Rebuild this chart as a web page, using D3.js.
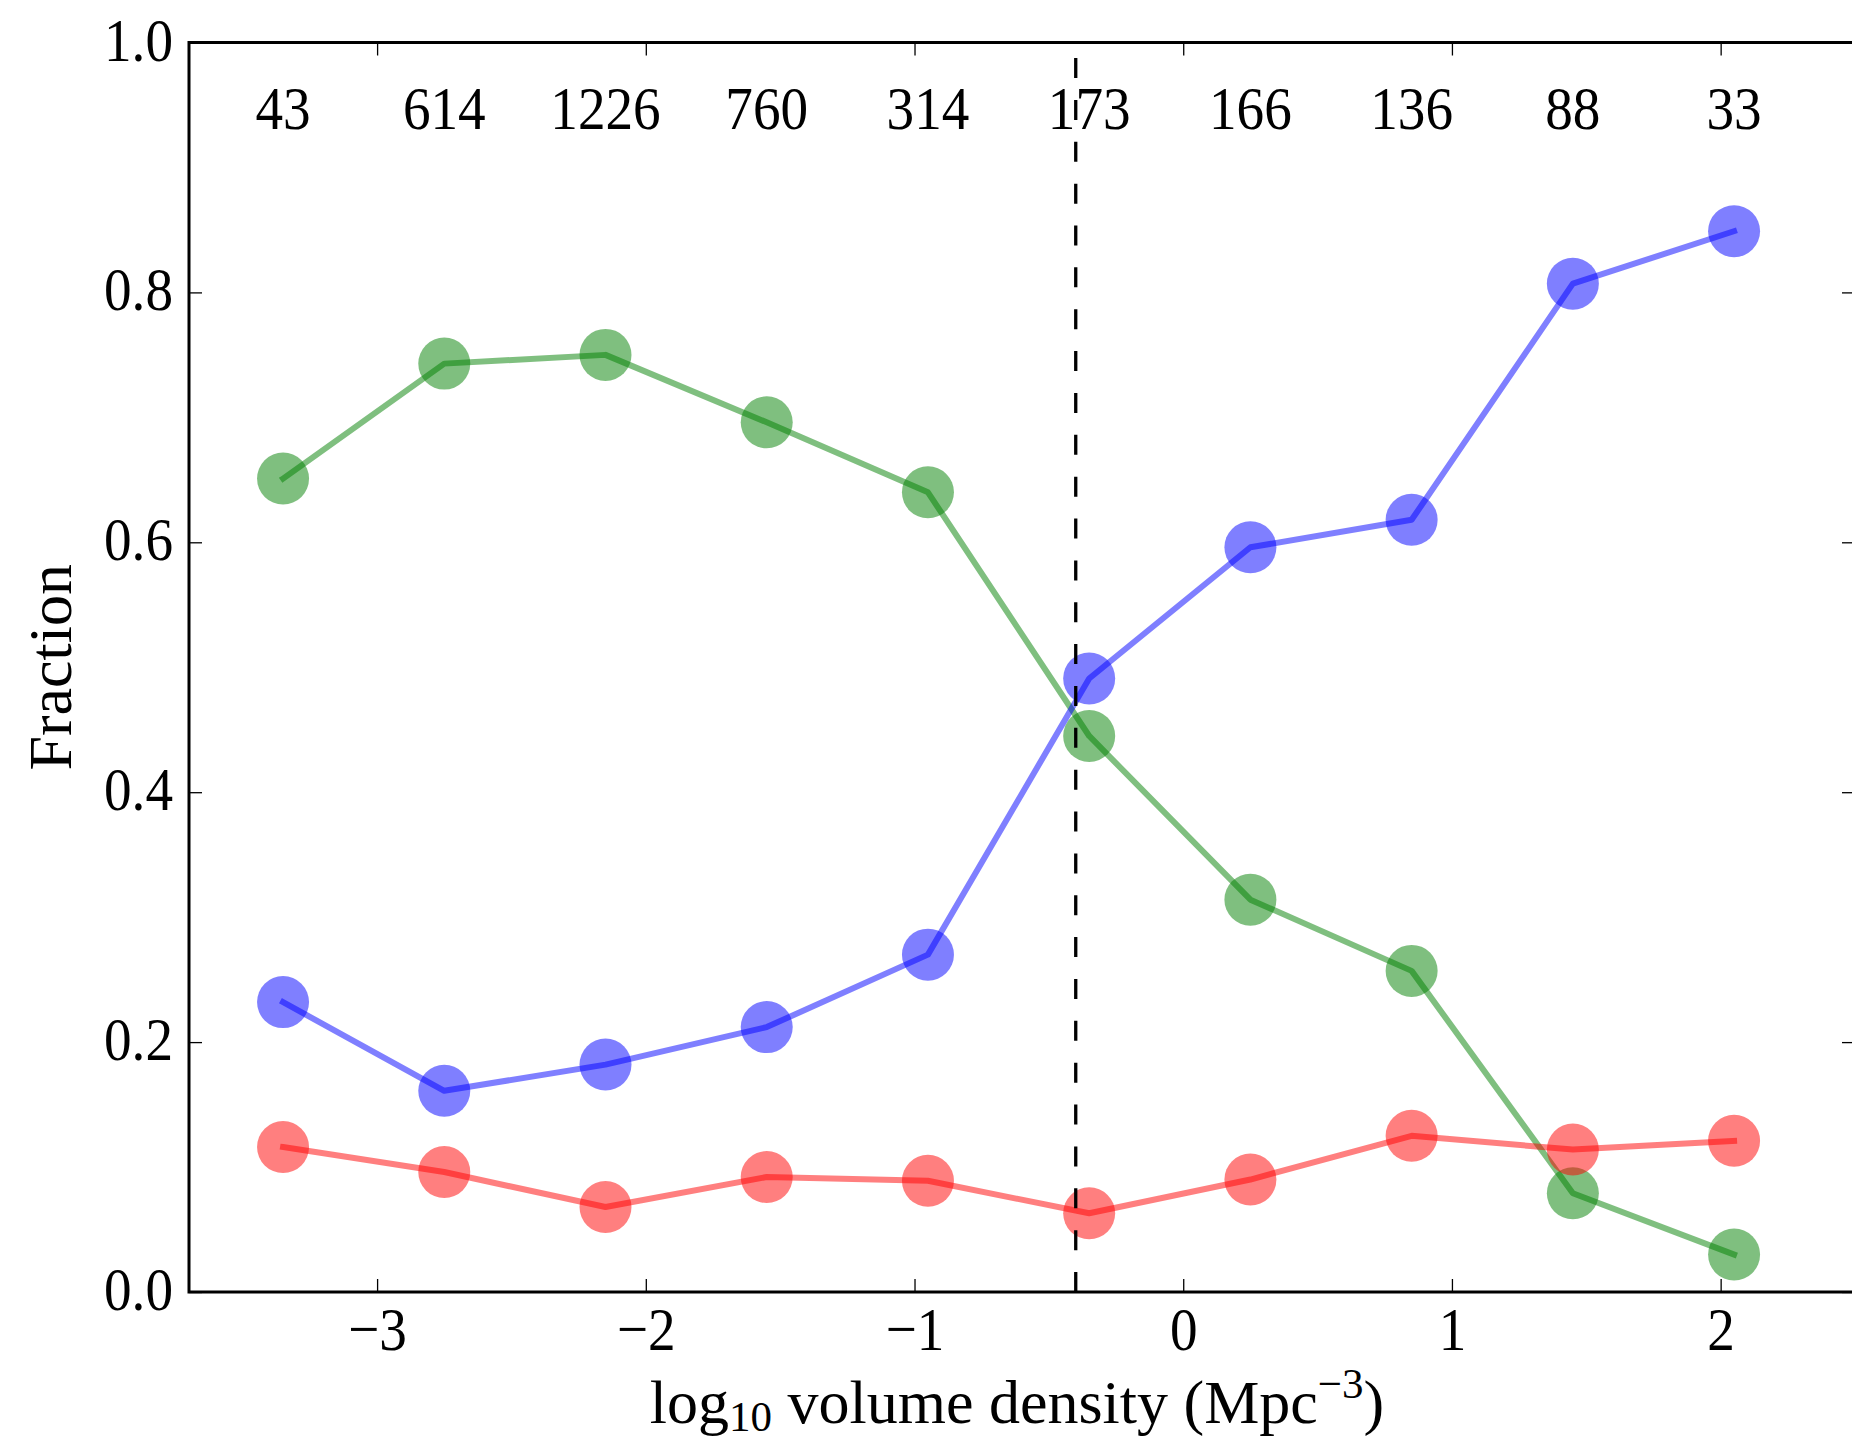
<!DOCTYPE html>
<html>
<head>
<meta charset="utf-8">
<script src="https://cdn.jsdelivr.net/npm/d3@7"></script>
<style>
  body { margin: 0; background: #fff; }
  svg { display: block; }
  text { font-family: "Liberation Serif", "DejaVu Serif", serif; fill: #000; }
</style>
</head>
<body>
<div id="chart"></div>
<script>
// density bins (log10 volume density) and number of galaxies per bin
const binCentres = [-3.35, -2.75, -2.15, -1.55, -0.95, -0.35, 0.25, 0.85, 1.45, 2.05];
const binCounts = [43, 614, 1226, 760, 314, 173, 166, 136, 88, 33];

// fractions per bin
const greenFrac = [0.651, 0.743, 0.750, 0.696, 0.640, 0.445, 0.314, 0.257, 0.079, 0.030];
const blueFrac = [0.232, 0.161, 0.182, 0.212, 0.270, 0.491, 0.596, 0.618, 0.807, 0.849];
const redFrac = [0.116, 0.096, 0.068, 0.092, 0.089, 0.063, 0.090, 0.125, 0.114, 0.121];

const xTicks = [-3, -2, -1, 0, 1, 2];
const yTicks = [0, 0.2, 0.4, 0.6, 0.8, 1.0];
const splitAt = -0.4;

const width = 1852, height = 1443;
const margin = { top: 42.5, right: -3, bottom: 151, left: 189 };
const fs = 62;          // main font size
const squeeze = 0.89;   // narrow the digits a bit, closer to the TeX look

const svg = d3.select("#chart").append("svg")
    .attr("width", width)
    .attr("height", height);

const x = d3.scaleLinear()
    .domain([-3.7, 2.5])
    .range([margin.left, width - margin.right]);

const y = d3.scaleLinear()
    .domain([0, 1])
    .range([height - margin.bottom, margin.top]);

const series = [
    { vals: greenFrac, color: "#008000" },
    { vals: blueFrac, color: "#0000ff" },
    { vals: redFrac, color: "#ff0000" }
];

const line = d3.line()
    .x((d, i) => x(binCentres[i]))
    .y(d => y(d));

// lines and markers
series.forEach(s => {
    svg.append("path")
        .datum(s.vals)
        .attr("d", line)
        .attr("fill", "none")
        .attr("stroke", s.color)
        .attr("stroke-width", 6)
        .attr("stroke-linejoin", "round")
        .attr("stroke-linecap", "square")
        .attr("opacity", 0.5);

    svg.append("g").selectAll("circle")
        .data(s.vals)
        .join("circle")
        .attr("cx", (d, i) => x(binCentres[i]))
        .attr("cy", d => y(d))
        .attr("r", 26)
        .attr("fill", s.color)
        .attr("opacity", 0.5);
});

// vertical dashed line
svg.append("line")
    .attr("x1", x(splitAt))
    .attr("x2", x(splitAt))
    .attr("y1", y(0))
    .attr("y2", y(1))
    .attr("stroke", "#000")
    .attr("stroke-width", 3.3)
    .attr("stroke-dasharray", "20 21.86");

// counts along the top
svg.append("g").selectAll("text")
    .data(binCounts)
    .join("text")
    .attr("transform", (d, i) => `translate(${x(binCentres[i])},129) scale(${squeeze},1)`)
    .attr("text-anchor", "middle")
    .style("font-size", fs + "px")
    .text(d => d);

// axes, ticks pointing inwards
const tickLen = 13;
const fmtX = d => (d < 0 ? "\u2212" + Math.abs(d) : String(d));

const gx = svg.append("g")
    .attr("transform", `translate(0,${y(0)})`)
    .call(d3.axisBottom(x).tickValues(xTicks).tickSizeInner(-tickLen).tickSizeOuter(0).tickFormat(fmtX));
gx.selectAll("text")
    .attr("y", null).attr("dy", null)
    .attr("transform", `translate(0,58) scale(${squeeze},1)`)
    .style("font-size", fs + "px");

const gxTop = svg.append("g")
    .attr("transform", `translate(0,${y(1)})`)
    .call(d3.axisTop(x).tickValues(xTicks).tickSizeInner(-tickLen).tickSizeOuter(0).tickFormat(""));

const gy = svg.append("g")
    .attr("transform", `translate(${x(-3.7)},0)`)
    .call(d3.axisLeft(y).tickValues(yTicks).tickSizeInner(-tickLen).tickSizeOuter(0).tickFormat(d3.format(".1f")));
gy.selectAll("text")
    .attr("x", null).attr("dy", null)
    .attr("transform", `translate(-16,17.5) scale(${squeeze},1)`)
    .attr("text-anchor", "end")
    .style("font-size", fs + "px");

const gyRight = svg.append("g")
    .attr("transform", `translate(${x(2.5)},0)`)
    .call(d3.axisRight(y).tickValues(yTicks).tickSizeInner(-tickLen).tickSizeOuter(0).tickFormat(""));

[gx, gxTop, gy, gyRight].forEach(g => {
    g.select(".domain").remove();
    g.selectAll(".tick line").attr("stroke", "#000").attr("stroke-width", 1.3);
    g.attr("font-family", null).attr("font-size", null);
});

// frame
svg.append("rect")
    .attr("x", x(-3.7))
    .attr("y", y(1))
    .attr("width", x(2.5) - x(-3.7))
    .attr("height", y(0) - y(1))
    .attr("fill", "none")
    .attr("stroke", "#000")
    .attr("stroke-width", 3);

// axis labels
const xl = svg.append("text")
    .attr("x", 1017)
    .attr("y", 1423)
    .attr("text-anchor", "middle")
    .style("font-size", fs + "px");
xl.append("tspan").text("log");
xl.append("tspan").attr("dy", 8).style("font-size", "43px").text("10");
xl.append("tspan").attr("dy", -8).text(" volume density (Mpc");
xl.append("tspan").attr("dy", -25).style("font-size", "43px").text("\u22123");
xl.append("tspan").attr("dy", 25).text(")");

svg.append("text")
    .attr("transform", `translate(71,${(y(0) + y(1)) / 2}) rotate(-90)`)
    .attr("text-anchor", "middle")
    .style("font-size", fs + "px")
    .text("Fraction");
</script>
</body>
</html>
